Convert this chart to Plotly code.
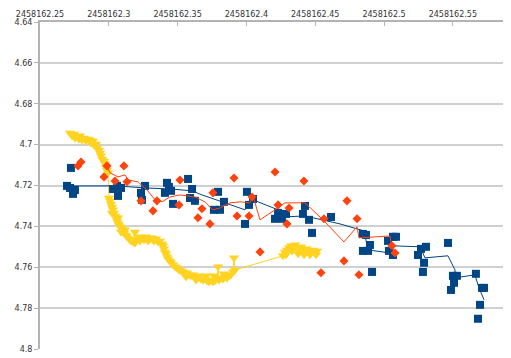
import plotly.graph_objects as go

JD0 = 2458162.0

# Series 1 (blue squares): fractional JD and magnitude
blue_jd = [0.2696, 0.2718, 0.2754, 0.2740, 0.2725, 0.3031, 0.3060, 0.3089, 0.3067,
           0.3234, 0.3263, 0.3241, 0.3408, 0.3423, 0.3437, 0.3452, 0.3467, 0.3576,
           0.3605, 0.3590, 0.3626, 0.3794, 0.3837, 0.3808, 0.3764, 0.4004, 0.4019,
           0.4048, 0.3990, 0.4208, 0.4230, 0.4259, 0.4288, 0.4426, 0.4411, 0.4455,
           0.4477, 0.4615, 0.4847, 0.4869, 0.4898, 0.4847, 0.4884, 0.4913, 0.5029,
           0.5065, 0.5087, 0.5036, 0.5065, 0.5247, 0.5269, 0.5305, 0.5291, 0.5283,
           0.5465, 0.5501, 0.5530, 0.5509, 0.5487, 0.5668, 0.5712, 0.5727, 0.5698,
           0.5683]
blue_mag = [4.7202, 4.7212, 4.7222, 4.7241, 4.7114, 4.7217, 4.7202, 4.7212, 4.7251,
            4.7236, 4.7202, 4.7270, 4.7236, 4.7187, 4.7207, 4.7226, 4.7290, 4.7168,
            4.7217, 4.7261, 4.7275, 4.7231, 4.7280, 4.7319, 4.7319, 4.7231, 4.7295,
            4.7266, 4.7388, 4.7363, 4.7334, 4.7363, 4.7339, 4.7300, 4.7339, 4.7368,
            4.7432, 4.7354, 4.7437, 4.7442, 4.7491, 4.7520, 4.7520, 4.7623, 4.7471,
            4.7451, 4.7451, 4.7520, 4.7540, 4.7540, 4.7510, 4.7500, 4.7578, 4.7623,
            4.7481, 4.7642, 4.7642, 4.7676, 4.7711, 4.7632, 4.7701, 4.7701, 4.7784,
            4.7852]

# Series 1 trend (moving average as drawn)
blue_trend_jd = [0.2696, 0.2754, 0.3060, 0.3263, 0.3445, 0.3605, 0.3677, 0.3830,
                 0.3990, 0.4033, 0.4230, 0.4259, 0.4426, 0.4680, 0.4855, 0.4884,
                 0.5043, 0.5058, 0.5262, 0.5298, 0.5465, 0.5516, 0.5516, 0.5661,
                 0.5690, 0.5727]
blue_trend_mag = [4.7197, 4.7202, 4.7202, 4.7212, 4.7217, 4.7226, 4.7246, 4.7280,
                  4.7319, 4.7266, 4.7319, 4.7354, 4.7349, 4.7388, 4.7422, 4.7515,
                  4.7530, 4.7495, 4.7500, 4.7554, 4.7544, 4.7613, 4.7652, 4.7637,
                  4.7701, 4.7759]

# Series 2 (orange diamonds)
orange_jd = [0.2776, 0.2798, 0.2965, 0.2987, 0.3045, 0.3110, 0.3132, 0.3234, 0.3350,
             0.3321, 0.3517, 0.3510, 0.3677, 0.3648, 0.3735, 0.3757, 0.3910, 0.3932,
             0.4019, 0.4041, 0.4099, 0.4208, 0.4230, 0.4295, 0.4310, 0.4418, 0.4542,
             0.4564, 0.4709, 0.4731, 0.4804, 0.4818, 0.5058, 0.5080]
orange_mag = [4.7104, 4.7085, 4.7158, 4.7104, 4.7178, 4.7104, 4.7182, 4.7275, 4.7275,
              4.7324, 4.7173, 4.7295, 4.7314, 4.7358, 4.7388, 4.7236, 4.7163, 4.7349,
              4.7349, 4.7256, 4.7525, 4.7134, 4.7295, 4.7388, 4.7310, 4.7178, 4.7627,
              4.7363, 4.7569, 4.7275, 4.7363, 4.7637, 4.7495, 4.7530]

orange_trend_jd = [0.2987, 0.3009, 0.3067, 0.3118, 0.3139, 0.3212, 0.3278, 0.3336,
                   0.3387, 0.3445, 0.3517, 0.3626, 0.3699, 0.3757, 0.3808, 0.3881,
                   0.3953, 0.4026, 0.4048, 0.4099, 0.4208, 0.4280, 0.4426, 0.4557,
                   0.4709, 0.4804, 0.4818, 0.5043, 0.5058, 0.5080]
orange_trend_mag = [4.7109, 4.7138, 4.7158, 4.7148, 4.7173, 4.7182, 4.7222, 4.7270,
                    4.7280, 4.7256, 4.7246, 4.7256, 4.7280, 4.7319, 4.7310, 4.7285,
                    4.7280, 4.7285, 4.7251, 4.7368, 4.7319, 4.7285, 4.7285, 4.7368,
                    4.7476, 4.7402, 4.7456, 4.7447, 4.7500, 4.7525]

# Series 3 (yellow triangles)
yellow_jd = [0.2718, 0.2733, 0.2747, 0.2754, 0.2769, 0.2783, 0.2791, 0.2805, 0.2820,
             0.2834, 0.2849, 0.2863, 0.2871, 0.2885, 0.2892, 0.2907, 0.2914, 0.2929,
             0.2936, 0.2943, 0.2951, 0.2965, 0.2972, 0.2980, 0.2987, 0.2994,
             0.3001, 0.3009, 0.3016, 0.3023, 0.3023, 0.3030, 0.3038, 0.3045, 0.3052,
             0.3060, 0.3067, 0.3067, 0.3074, 0.3081, 0.3089, 0.3096, 0.3103, 0.3110,
             0.3118, 0.3125, 0.3132, 0.3147, 0.3161, 0.3176, 0.3190, 0.3190, 0.3198,
             0.3212, 0.3227, 0.3241, 0.3256, 0.3270, 0.3285, 0.3299, 0.3314, 0.3328,
             0.3343, 0.3358, 0.3372, 0.3387, 0.3394, 0.3401, 0.3408, 0.3416, 0.3423,
             0.3430, 0.3445, 0.3452, 0.3467, 0.3481, 0.3496, 0.3510, 0.3525, 0.3539,
             0.3554, 0.3561, 0.3568, 0.3583, 0.3597, 0.3612, 0.3626, 0.3634, 0.3641,
             0.3655, 0.3670, 0.3685, 0.3699, 0.3706, 0.3714, 0.3728, 0.3743, 0.3757,
             0.3764, 0.3772, 0.3786, 0.3794, 0.3801, 0.3815, 0.3830, 0.3837, 0.3844,
             0.3859, 0.3873, 0.3888, 0.3903, 0.3910, 0.3917,
             0.4266, 0.4280, 0.4288, 0.4295, 0.4310, 0.4324, 0.4332, 0.4339, 0.4353,
             0.4368, 0.4375, 0.4382, 0.4397, 0.4411, 0.4419, 0.4426, 0.4440, 0.4455,
             0.4462, 0.4469, 0.4484, 0.4498, 0.4506, 0.4513]
yellow_mag = [4.6943, 4.6957, 4.6948, 4.6967, 4.6962, 4.6972, 4.6957, 4.6977, 4.6967,
              4.6982, 4.6972, 4.6977, 4.6992, 4.6982, 4.7001, 4.6997, 4.7016, 4.7026,
              4.7041, 4.7055, 4.7070, 4.7080, 4.7094, 4.7109, 4.7124, 4.7138,
              4.7261, 4.7275, 4.7290, 4.7305, 4.7334, 4.7319, 4.7334, 4.7349, 4.7358,
              4.7373, 4.7358, 4.7383, 4.7393, 4.7402, 4.7427, 4.7412, 4.7422, 4.7432,
              4.7417, 4.7442, 4.7451, 4.7461, 4.7471, 4.7476, 4.7427, 4.7481, 4.7466,
              4.7451, 4.7471, 4.7456, 4.7466, 4.7451, 4.7471, 4.7461, 4.7456, 4.7471,
              4.7461, 4.7476, 4.7471, 4.7486, 4.7495, 4.7510, 4.7525, 4.7534, 4.7549,
              4.7559, 4.7569, 4.7578, 4.7588, 4.7598, 4.7603, 4.7613, 4.7617, 4.7622,
              4.7632, 4.7647, 4.7627, 4.7637, 4.7642, 4.7637, 4.7647, 4.7662, 4.7652,
              4.7642, 4.7657, 4.7662, 4.7657, 4.7642, 4.7666, 4.7671, 4.7662, 4.7671,
              4.7642, 4.7666, 4.7657, 4.7598, 4.7662, 4.7652, 4.7657, 4.7632, 4.7647,
              4.7652, 4.7642, 4.7637, 4.7622, 4.7554, 4.7613,
              4.7544, 4.7525, 4.7539, 4.7515, 4.7505, 4.7495, 4.7520, 4.7500, 4.7490,
              4.7505, 4.7534, 4.7520, 4.7500, 4.7515, 4.7539, 4.7525, 4.7510, 4.7520,
              4.7539, 4.7530, 4.7515, 4.7525, 4.7539, 4.7520]

C_BLUE = "#004586"
C_ORANGE = "#ff420e"
C_YELLOW = "#ffd320"

def jd(lst):
    return [JD0 + v for v in lst]

fig = go.Figure()

fig.add_trace(go.Scatter(
    x=jd(yellow_jd), y=yellow_mag, mode="lines+markers",
    line=dict(color=C_YELLOW, width=1),
    marker=dict(symbol="triangle-down", size=9, color=C_YELLOW, line=dict(width=0)),
    showlegend=False, hoverinfo="skip"))

fig.add_trace(go.Scatter(
    x=jd(blue_jd), y=blue_mag, mode="markers",
    marker=dict(symbol="square", size=8, color=C_BLUE, line=dict(width=0)),
    showlegend=False))
fig.add_trace(go.Scatter(
    x=jd(blue_trend_jd), y=blue_trend_mag, mode="lines",
    line=dict(color=C_BLUE, width=1), showlegend=False, hoverinfo="skip"))

fig.add_trace(go.Scatter(
    x=jd(orange_jd), y=orange_mag, mode="markers",
    marker=dict(symbol="diamond", size=7, color=C_ORANGE, line=dict(width=0)),
    showlegend=False))
fig.add_trace(go.Scatter(
    x=jd(orange_trend_jd), y=orange_trend_mag, mode="lines",
    line=dict(color=C_ORANGE, width=1), showlegend=False, hoverinfo="skip"))

# The page body adds an 8px margin, so the figure is sized/margined to compensate
fig.update_layout(
    width=503, height=350,
    margin=dict(l=32, r=0, t=14, b=9, autoexpand=False),
    paper_bgcolor="white", plot_bgcolor="white",
    font=dict(family="DejaVu Sans", size=8, color="#333333"),
    xaxis=dict(
        side="top", range=[JD0 + 0.25, JD0 + 0.5923],
        tick0=JD0 + 0.25, dtick=0.05, tickformat=".2~f",
        showgrid=False, zeroline=False, automargin=False,
        showline=True, linecolor="#b3b3b3", linewidth=2,
        ticks="inside", ticklen=4, tickcolor="#b3b3b3", tickwidth=1,
    ),
    yaxis=dict(
        range=[4.8, 4.64], tick0=4.64, dtick=0.02, tickformat=".2~f",
        showgrid=True, gridcolor="#d0d0d0", gridwidth=2, zeroline=False,
        automargin=False,
        showline=True, linecolor="#b3b3b3", linewidth=2,
        ticks="outside", ticklen=4, tickcolor="#b3b3b3", tickwidth=1,
    ),
)

fig.write_html("out.html")
